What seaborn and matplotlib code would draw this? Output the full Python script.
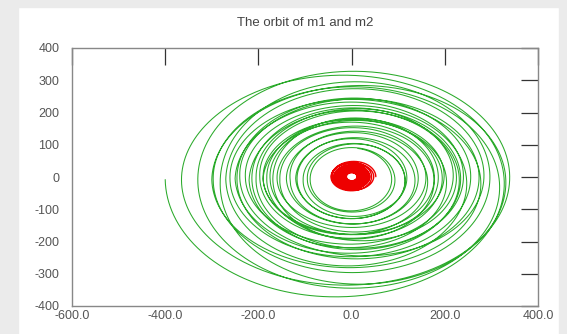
import numpy as np
import pandas as pd
import matplotlib
matplotlib.use("Agg")
import matplotlib.pyplot as plt
import seaborn as sns
from matplotlib.patches import Rectangle

# extents of each turn of the m2 orbit (in plot units)
turn_left = [-400, -365, -330, -297, -282, -300, -261, -246, -240, -270, -228, -214, -205, -250, -197,
             -190, -182, -220, -175, -169, -160, -154, -190, -132, -140, -117, -104, -120, -95, -89]
turn_right = [358, 297, 381, 253, 340, 322, 232, 279, 268, 300, 193, 243, 225, 255, 207,
              182, 215, 235, 172, 200, 154, 165, 190, 136, 150, 122, 107, 130, 100, 86]
turn_top = [371, 297, 338, 260, 307, 276, 229, 250, 240, 285, 200, 219, 209, 240, 193,
            173, 183, 215, 162, 190, 147, 155, 175, 131, 140, 116, 100, 125, 95, 90]
turn_bottom = [-387, -325, -366, -280, -345, -294, -242, -263, -226, -300, -201, -230, -211, -250, -195,
               -175, -185, -235, -170, -205, -154, -164, -190, -144, -150, -133, -118, -135, -110, -105]
end_angle_deg = 80      # where the last turn stops
mass_ratio = 0.13       # m1 sits opposite m2, scaled by m2/m1

x_ticks = [-600, -400, -200, 0, 200, 400]
y_ticks = [-400, -300, -200, -100, 0, 100, 200, 300, 400]

# build the m2 path turn by turn (counter-clockwise, starting at the left end)
l = np.array(turn_left, float)
r = np.array(turn_right, float)
t_ = np.array(turn_top, float)
b = np.array(turn_bottom, float)
cx, rx = (l + r) / 2, (r - l) / 2
cy, ry = (t_ + b) / 2, (t_ - b) / 2

xs, ys = [], []
n = len(l)
for k in range(n):
    s = np.linspace(0, 1, 500, endpoint=(k == n - 1))
    if k < n - 1:
        theta = np.pi + 2 * np.pi * s
        j = k + 1
    else:
        theta = np.pi + s * (np.pi + np.radians(end_angle_deg))
        j = k
    xs.append(cx[k] * (1 - s) + cx[j] * s + (rx[k] * (1 - s) + rx[j] * s) * np.cos(theta))
    ys.append(cy[k] * (1 - s) + cy[j] * s + (ry[k] * (1 - s) + ry[j] * s) * np.sin(theta))

m2 = pd.DataFrame({"x": np.concatenate(xs), "y": np.concatenate(ys)})
m1 = pd.DataFrame({"x": -mass_ratio * m2["x"], "y": -mass_ratio * m2["y"]})

sns.set_theme(style="white")
plt.rcParams["font.family"] = ["Liberation Sans", "DejaVu Sans"]

fig = plt.figure(figsize=(5.67, 3.34), dpi=100)
ax = fig.add_axes([72 / 567, 28 / 334, 466 / 567, 258 / 334])

# grey page strips around the white panel
for rect in [(0, 0, 18 / 567, 1), (0, 1 - 7 / 334, 1, 7 / 334), (559 / 567, 0, 8 / 567, 1)]:
    fig.patches.append(Rectangle(rect[:2], rect[2], rect[3], transform=fig.transFigure,
                                 color="#ebebeb", zorder=-1))

sns.lineplot(data=m2, x="x", y="y", sort=False, estimator=None, color="#2aaa2a", lw=0.75, ax=ax)
sns.lineplot(data=m1, x="x", y="y", sort=False, estimator=None, color="#ee0000", lw=1.0, ax=ax)

ax.set_xlim(-600, 400)
ax.set_ylim(-400, 400)
ax.set_xticks(x_ticks)
ax.set_xticklabels([f"{v:.1f}" for v in x_ticks])
ax.set_yticks(y_ticks)
ax.set_yticklabels([str(v) for v in y_ticks])
ax.set_xlabel("")
ax.set_ylabel("")
ax.tick_params(direction="in", length=12, width=0.9, color="#333333",
               top=True, right=True, labelsize=9, labelcolor="#555555")
ax.tick_params(axis="x", pad=3)
ax.tick_params(axis="y", pad=9)
for sp in ax.spines.values():
    sp.set_color("#888888")
    sp.set_linewidth(1)

fig.text(305 / 567, 1 - 23 / 334, "The orbit of m1 and m2", ha="center", va="center",
         fontsize=9.5, color="#444444")

fig.savefig("out.png", dpi=100)
